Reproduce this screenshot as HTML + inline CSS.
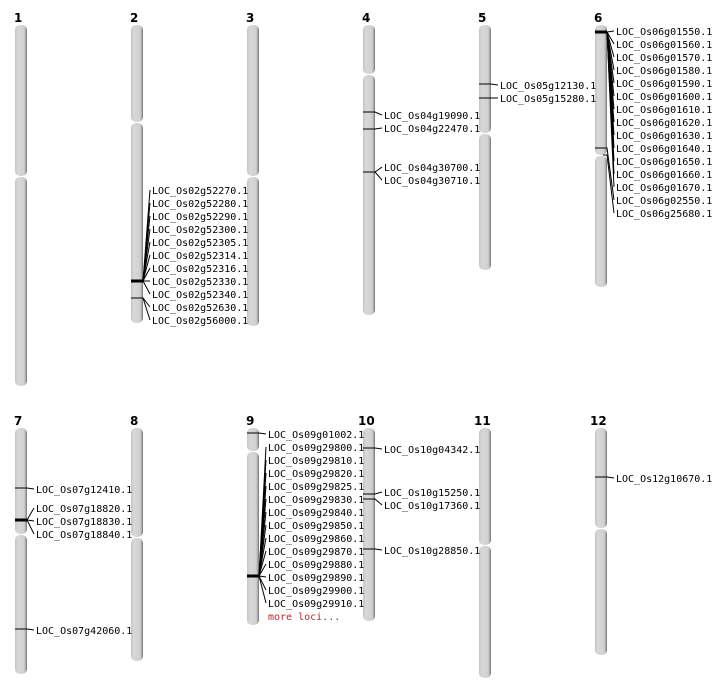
<!DOCTYPE html>
<html><head><meta charset="utf-8"><style>
html,body{margin:0;padding:0;background:#fff;}
svg{display:block;}
.n{font:bold 12px "DejaVu Sans","Liberation Sans",sans-serif;fill:#000;}
.l{font:10px "DejaVu Sans Mono","Liberation Mono",monospace;fill:#000;}
.c{stroke:#000;stroke-width:1;fill:none;}
.t{stroke:#000;stroke-width:3;fill:none;}
</style></head><body>
<svg width="712" height="700" viewBox="0 0 712 700" xmlns="http://www.w3.org/2000/svg">
<defs>
<linearGradient id="g" x1="0" x2="1" y1="0" y2="0">
<stop offset="0" stop-color="#c4c4c4"/><stop offset="0.25" stop-color="#d8d8d8"/><stop offset="0.75" stop-color="#d0d0d0"/><stop offset="0.88" stop-color="#b0b0b0"/><stop offset="1" stop-color="#6a6a6a"/>
</linearGradient>
</defs>
<g fill="url(#g)">
<rect x="15" y="25" width="12" height="151" rx="5"/><rect x="15" y="177" width="12" height="209" rx="5"/>
<rect x="131" y="25" width="12" height="97" rx="5"/><rect x="131" y="123" width="12" height="200" rx="5"/>
<rect x="247" y="25" width="12" height="151" rx="5"/><rect x="247" y="177" width="12" height="149" rx="5"/>
<rect x="363" y="25" width="12" height="49" rx="5"/><rect x="363" y="75" width="12" height="240" rx="5"/>
<rect x="479" y="25" width="12" height="108" rx="5"/><rect x="479" y="134" width="12" height="136" rx="5"/>
<rect x="595" y="25" width="12" height="130" rx="5"/><rect x="595" y="156" width="12" height="131" rx="5"/>
<rect x="15" y="428" width="12" height="106" rx="5"/><rect x="15" y="535" width="12" height="139" rx="5"/>
<rect x="131" y="428" width="12" height="109" rx="5"/><rect x="131" y="538" width="12" height="123" rx="5"/>
<rect x="247" y="428" width="12" height="23" rx="5"/><rect x="247" y="452" width="12" height="173" rx="5"/>
<rect x="363" y="428" width="12" height="193" rx="5"/>
<rect x="479" y="428" width="12" height="117" rx="5"/><rect x="479" y="546" width="12" height="132" rx="5"/>
<rect x="595" y="428" width="12" height="100" rx="5"/><rect x="595" y="529" width="12" height="126" rx="5"/>
</g>
<text class="n" x="14" y="22">1</text><text class="n" x="130" y="22">2</text><text class="n" x="246" y="22">3</text><text class="n" x="362" y="22">4</text><text class="n" x="478" y="22">5</text><text class="n" x="594" y="22">6</text>
<text class="n" x="14" y="425">7</text><text class="n" x="130" y="425">8</text><text class="n" x="246" y="425">9</text><text class="n" x="358" y="425">10</text><text class="n" x="474" y="425">11</text><text class="n" x="590" y="425">12</text>

<!-- chr2 -->
<g class="c">
<polyline points="143,281 150,190"/><polyline points="143,281 150,203"/><polyline points="143,281 150,216"/><polyline points="143,281 150,229"/><polyline points="143,281 150,242"/><polyline points="143,281 150,255"/><polyline points="143,281 150,268"/><polyline points="143,281 150,281"/><polyline points="143,281 150,294"/>
<polyline points="131,298 143,298 150,307"/><polyline points="143,298 150,320"/>
</g>
<line class="t" x1="131" y1="281" x2="143" y2="281"/>
<g class="l">
<text x="152" y="194">LOC_Os02g52270.1</text><text x="152" y="207">LOC_Os02g52280.1</text><text x="152" y="220">LOC_Os02g52290.1</text><text x="152" y="233">LOC_Os02g52300.1</text><text x="152" y="246">LOC_Os02g52305.1</text><text x="152" y="259">LOC_Os02g52314.1</text><text x="152" y="272">LOC_Os02g52316.1</text><text x="152" y="285">LOC_Os02g52330.1</text><text x="152" y="298">LOC_Os02g52340.1</text><text x="152" y="311">LOC_Os02g52630.1</text><text x="152" y="324">LOC_Os02g56000.1</text>
</g>
<!-- chr4 -->
<g class="c">
<polyline points="363,112 375,112 382,115"/><polyline points="363,129 375,129 382,128"/>
<polyline points="363,172 375,172 382,167"/><polyline points="375,172 382,180"/>
</g>
<g class="l"><text x="384" y="119">LOC_Os04g19090.1</text><text x="384" y="132">LOC_Os04g22470.1</text><text x="384" y="171">LOC_Os04g30700.1</text><text x="384" y="184">LOC_Os04g30710.1</text></g>
<!-- chr5 -->
<g class="c"><polyline points="479,84 491,84 498,85"/><polyline points="479,98 491,98 498,98"/></g>
<g class="l"><text x="500" y="89">LOC_Os05g12130.1</text><text x="500" y="102">LOC_Os05g15280.1</text></g>
<!-- chr6 -->
<g class="c">
<polyline points="607,32 614,31"/><polyline points="607,32 614,44"/><polyline points="607,32 614,57"/><polyline points="607,32 614,70"/><polyline points="607,32 614,83"/><polyline points="607,32 614,96"/><polyline points="607,32 614,109"/><polyline points="607,32 614,122"/><polyline points="607,32 614,135"/><polyline points="607,32 614,148"/><polyline points="607,32 614,161"/><polyline points="607,32 614,174"/><polyline points="607,32 614,187"/>
<polyline points="595,148 607,148 614,200"/><polyline points="603,155 607,155 614,213"/>
</g>
<line class="t" x1="595" y1="32" x2="607" y2="32"/>
<g class="l">
<text x="616" y="35">LOC_Os06g01550.1</text><text x="616" y="48">LOC_Os06g01560.1</text><text x="616" y="61">LOC_Os06g01570.1</text><text x="616" y="74">LOC_Os06g01580.1</text><text x="616" y="87">LOC_Os06g01590.1</text><text x="616" y="100">LOC_Os06g01600.1</text><text x="616" y="113">LOC_Os06g01610.1</text><text x="616" y="126">LOC_Os06g01620.1</text><text x="616" y="139">LOC_Os06g01630.1</text><text x="616" y="152">LOC_Os06g01640.1</text><text x="616" y="165">LOC_Os06g01650.1</text><text x="616" y="178">LOC_Os06g01660.1</text><text x="616" y="191">LOC_Os06g01670.1</text><text x="616" y="204">LOC_Os06g02550.1</text><text x="616" y="217">LOC_Os06g25680.1</text>
</g>
<!-- chr7 -->
<g class="c">
<polyline points="15,488 27,488 34,489"/>
<polyline points="27,520 34,508"/><polyline points="27,520 34,521"/><polyline points="27,520 34,534"/>
<polyline points="15,629 27,629 34,630"/>
</g>
<line class="t" x1="15" y1="520" x2="27" y2="520"/>
<g class="l"><text x="36" y="493">LOC_Os07g12410.1</text><text x="36" y="512">LOC_Os07g18820.1</text><text x="36" y="525">LOC_Os07g18830.1</text><text x="36" y="538">LOC_Os07g18840.1</text><text x="36" y="634">LOC_Os07g42060.1</text></g>
<!-- chr9 -->
<g class="c">
<polyline points="247,433 259,433 266,434"/>
<polyline points="259,576 266,447"/><polyline points="259,576 266,460"/><polyline points="259,576 266,473"/><polyline points="259,576 266,486"/><polyline points="259,576 266,499"/><polyline points="259,576 266,512"/><polyline points="259,576 266,525"/><polyline points="259,576 266,538"/><polyline points="259,576 266,551"/><polyline points="259,576 266,564"/><polyline points="259,576 266,577"/><polyline points="259,576 266,590"/><polyline points="259,576 266,603"/>
</g>
<line class="t" x1="247" y1="576" x2="259" y2="576"/>
<g class="l">
<text x="268" y="438">LOC_Os09g01002.1</text><text x="268" y="451">LOC_Os09g29800.1</text><text x="268" y="464">LOC_Os09g29810.1</text><text x="268" y="477">LOC_Os09g29820.1</text><text x="268" y="490">LOC_Os09g29825.1</text><text x="268" y="503">LOC_Os09g29830.1</text><text x="268" y="516">LOC_Os09g29840.1</text><text x="268" y="529">LOC_Os09g29850.1</text><text x="268" y="542">LOC_Os09g29860.1</text><text x="268" y="555">LOC_Os09g29870.1</text><text x="268" y="568">LOC_Os09g29880.1</text><text x="268" y="581">LOC_Os09g29890.1</text><text x="268" y="594">LOC_Os09g29900.1</text><text x="268" y="607">LOC_Os09g29910.1</text>
<text x="268" y="620" style="fill:#cc2222">more loci...</text>
</g>
<!-- chr10 -->
<g class="c">
<polyline points="363,448 375,448 382,449"/><polyline points="363,494 375,494 382,492"/><polyline points="363,499 375,499 382,505"/><polyline points="363,549 375,549 382,550"/>
</g>
<g class="l"><text x="384" y="453">LOC_Os10g04342.1</text><text x="384" y="496">LOC_Os10g15250.1</text><text x="384" y="509">LOC_Os10g17360.1</text><text x="384" y="554">LOC_Os10g28850.1</text></g>
<!-- chr12 -->
<g class="c"><polyline points="595,477 607,477 614,478"/></g>
<g class="l"><text x="616" y="482">LOC_Os12g10670.1</text></g>
</svg>
</body></html>
